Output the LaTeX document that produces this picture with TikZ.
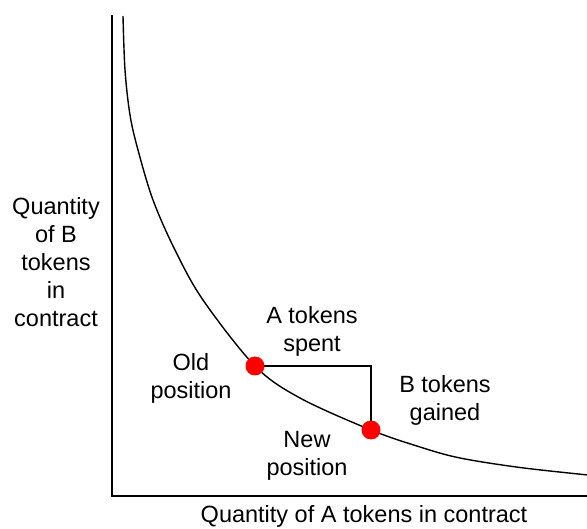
\documentclass[tikz,border=0pt]{standalone}
\usepackage{fontspec}
\setmainfont{Liberation Sans}
\usepackage{tikz}
\usetikzlibrary{positioning}

\begin{document}
\begin{tikzpicture}[x=1pt,y=-1pt]
	\tikzset{lbl/.style={align=center,inner sep=0pt,font=\fontsize{23.5}{28}\selectfont}}
	\tikzset{reddot/.style={circle,fill=red,draw=none,minimum size=19pt,inner sep=0pt}}
	\tikzstyle{axis}=[line width=1.8pt]
	\useasboundingbox (0,0) rectangle (587,529);

	%% Axes
	\coordinate (ytop) at (112,15);
	\coordinate (orig) at (112,496);
	\coordinate (xend) at (588,496);
	\draw[axis] (ytop) -- (orig) -- (xend);

	%% Curve of constant product
	\coordinate (old) at (255,366);
	\coordinate (new) at (371,430);
	\draw[line width=1.4pt] plot[smooth,tension=0.55] coordinates {(123,16) (125,70) (130,115) (138,150) (153,200) (175,250) (203,300) (old) (300,398) (new) (420,447) (460,458) (520,467.5) (588,475)};

	%% Trade
	\coordinate (corner) at (new |- old);
	\draw[line width=1.4pt] (old) -- (corner) -- (new);
	\node[reddot] (oldpos) at (old) {};
	\node[reddot] (newpos) at (new) {};

	%% Labels
	\node[lbl] (ylabel) at (56,262) {Quantity\\of B\\tokens\\in\\contract};
	\node[lbl] (xlabel) at (364,516) {Quantity of A tokens in contract};
	\node[lbl] (spent) at (312,331) {A tokens\\spent};
	\node[lbl] (gained) at (445,400) {B tokens\\gained};
	\node[lbl] (oldlbl) at (191,378) {Old\\position};
	\node[lbl] (newlbl) at (307,456) {New\\position};
\end{tikzpicture}
\end{document}
